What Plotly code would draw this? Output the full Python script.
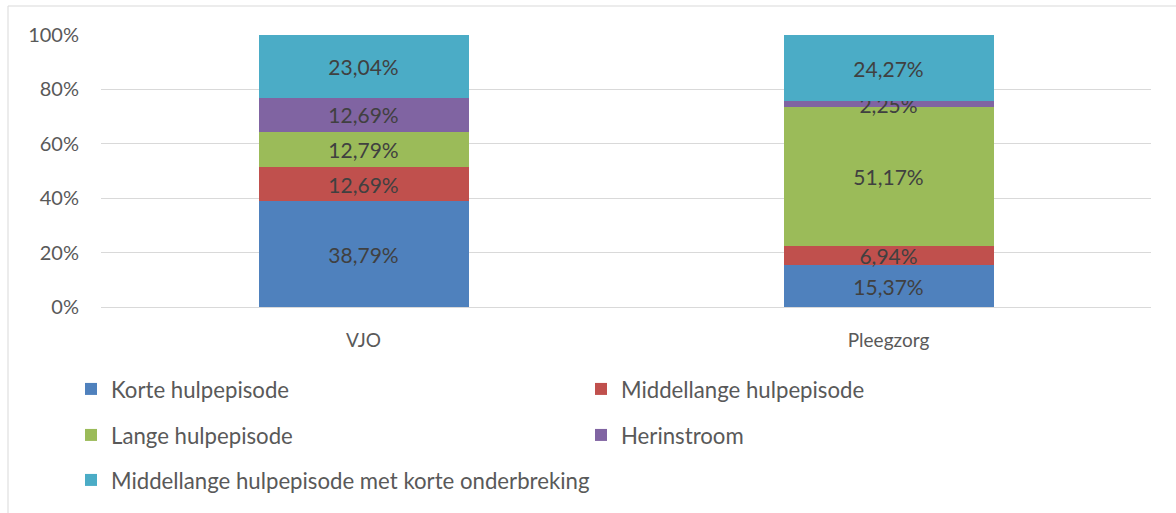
import plotly.graph_objects as go

categories = ["VJO", "Pleegzorg"]
series_names = [
    "Korte hulpepisode",
    "Middellange hulpepisode",
    "Lange hulpepisode",
    "Herinstroom",
    "Middellange hulpepisode met korte onderbreking",
]
korte = [38.79, 15.37]
middellange = [12.69, 6.94]
lange = [12.79, 51.17]
herinstroom = [12.69, 2.25]
middellange_onderbreking = [23.04, 24.27]
series_values = [korte, middellange, lange, herinstroom, middellange_onderbreking]
colors = ["#4F81BD", "#C0504D", "#9BBB59", "#8064A2", "#4BACC6"]
legend_rows = ["legend", "legend", "legend2", "legend2", "legend3"]
y_tickvals = [0, 20, 40, 60, 80, 100]
y_ticktext = ["0%", "20%", "40%", "60%", "80%", "100%"]

FONT = "Lato, Carlito, Calibri, sans-serif"

fig = go.Figure()
for name, vals, col, lg in zip(series_names, series_values, colors, legend_rows):
    fig.add_trace(go.Bar(
        x=categories, y=vals, name=name,
        marker=dict(color=col, line=dict(width=0)),
        texttemplate="%{y:.2f}%",
        textposition="inside",
        insidetextanchor="middle",
        constraintext="none",
        textangle=0,
        cliponaxis=False,
        legend=lg,
        textfont=dict(family=FONT, size=21, color="#404040"),
    ))

W, H = 1176, 513
L, R, T, B = 101, 25, 35, 206
pw, ph = W - L - R, H - T - B

def px_x(x):
    return (x - L) / pw

def px_y(y):
    return (H - B - y) / ph

fig.add_shape(type="rect", xref="paper", yref="paper",
              x0=px_x(8), x1=px_x(1190), y0=px_y(530), y1=px_y(6),
              line=dict(color="#D9D9D9", width=1), fillcolor="rgba(0,0,0,0)",
              layer="below")

def legend_at(ytop, ew=465):
    return dict(
        orientation="h", x=px_x(71), xanchor="left", y=px_y(ytop), yanchor="top",
        entrywidth=ew, entrywidthmode="pixels",
        traceorder="normal",
        font=dict(family=FONT, size=22.2, color="#595959"),
        itemwidth=30, bgcolor="rgba(0,0,0,0)",
    )

fig.update_layout(
    width=W, height=H,
    margin=dict(l=L, r=R, t=T, b=B, autoexpand=False),
    barmode="stack", bargap=0.6,
    separators=",.",
    plot_bgcolor="white", paper_bgcolor="white",
    font=dict(family=FONT, color="#595959", size=21),
    showlegend=True,
    legend=legend_at(368),
    legend2=legend_at(414),
    legend3=legend_at(459, ew=900),
    xaxis=dict(showgrid=False, showline=False, ticks="", ticklabelstandoff=20,
               tickfont=dict(size=19)),
    yaxis=dict(range=[0, 100], tickvals=y_tickvals, ticktext=y_ticktext,
               showgrid=True, gridcolor="#D9D9D9", gridwidth=1,
               zeroline=True, zerolinecolor="#D9D9D9", zerolinewidth=1,
               showline=False, ticks="", ticklabelstandoff=21,
               tickfont=dict(size=20)),
)

fig.write_html("out.html", config={"displayModeBar": False},
               post_script="document.body.style.margin='0';")
